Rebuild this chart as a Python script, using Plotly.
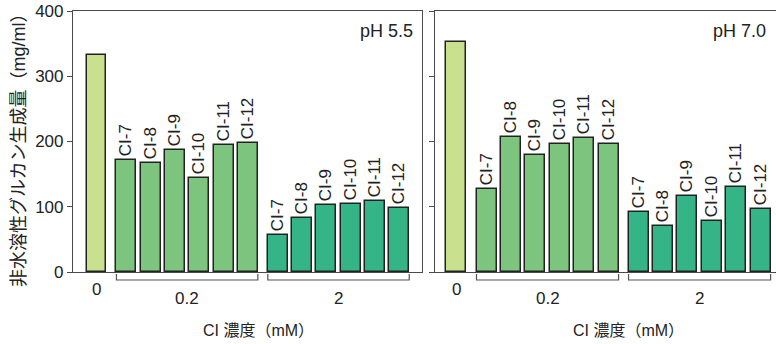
import plotly.graph_objects as go

# ---------------- data ----------------
strains = ["CI-7", "CI-8", "CI-9", "CI-10", "CI-11", "CI-12"]
conc_labels = ["0", "0.2", "2"]
panel_titles = ["pH 5.5", "pH 7.0"]

ph55_control = 332
ph55_conc02 = [172, 167, 187, 144, 194, 198]
ph55_conc2 = [57, 83, 103, 104, 109, 98]

ph70_control = 352
ph70_conc02 = [127, 207, 179, 196, 205, 196]
ph70_conc2 = [92, 71, 116, 78, 130, 97]

y_title = "非水溶性グルカン生成量（mg/ml）"
x_title = "CI 濃度（mM）"

# ---------------- styling ----------------
W, H = 776, 344
FONT = "Liberation Sans, Arial, Noto Sans CJK JP, sans-serif"
C_CTRL = "#c9e08e"
C_02 = "#7dc57f"
C_2 = "#34b487"
EDGE = "#222222"
AXC = "#4a4a4a"
BAR_W = 0.82
GAP = 1.23

# slot positions: control, group 0.2, group 2
pos_ctrl = 0.0
start02 = pos_ctrl + GAP
start2 = start02 + (len(strains) - 1) + GAP
pos02 = [start02 + i for i in range(len(strains))]
pos2 = [start2 + i for i in range(len(strains))]

def py(p):  # pixel row -> paper y
    return (H - p) / H

panels = [
    dict(xa="x", ya="y", dom=[73 / W, 422 / W], rng=[-0.967, 13.395],
         ctrl=ph55_control, g02=ph55_conc02, g2=ph55_conc2, title=panel_titles[0],
         title_x=415 / W, xt_x=258 / W),
    dict(xa="x2", ya="y2", dom=[435 / W, 1.0], rng=[-0.88, 13.09],
         ctrl=ph70_control, g02=ph70_conc02, g2=ph70_conc2, title=panel_titles[1],
         title_x=768 / W, xt_x=628 / W),
]

fig = go.Figure()
shapes = []
annotations = []

def paper_x(p, x):
    d0, d1 = p["dom"]
    r0, r1 = p["rng"]
    return d0 + (x - r0) / (r1 - r0) * (d1 - d0)

for p in panels:
    xs = [pos_ctrl] + pos02 + pos2
    ys = [p["ctrl"]] + p["g02"] + p["g2"]
    texts = [""] + strains + strains
    colors = [C_CTRL] + [C_02] * len(strains) + [C_2] * len(strains)
    fig.add_trace(go.Bar(
        x=xs, y=ys, width=BAR_W, text=texts, textposition="outside",
        textangle=-90, constraintext="none", cliponaxis=False,
        textfont=dict(family=FONT, size=17, color="#222"),
        marker=dict(color=colors, line=dict(color=EDGE, width=1.5)),
        xaxis=p["xa"], yaxis=p["ya"], showlegend=False, hoverinfo="x+y",
    ))
    # category labels
    annotations.append(dict(x=pos_ctrl, y=py(289), xref=p["xa"], yref="paper",
                            text=conc_labels[0], showarrow=False,
                            font=dict(family=FONT, size=17, color="#222"),
                            xanchor="center", yanchor="middle"))
    for grp, lab in ((pos02, conc_labels[1]), (pos2, conc_labels[2])):
        mid = (grp[0] + grp[-1]) / 2
        annotations.append(dict(x=mid, y=py(298), xref=p["xa"], yref="paper",
                                text=lab, showarrow=False,
                                font=dict(family=FONT, size=17, color="#222"),
                                xanchor="center", yanchor="middle"))
        xl = paper_x(p, grp[0] - BAR_W / 2)
        xr = paper_x(p, grp[-1] + BAR_W / 2)
        shapes.append(dict(type="path", xref="paper", yref="paper",
                           path=f"M {xl},{py(274)} L {xl},{py(280)} L {xr},{py(280)} L {xr},{py(274)}",
                           line=dict(color="#555", width=1.2)))
    # panel title
    annotations.append(dict(x=p["title_x"], y=py(31), xref="paper", yref="paper",
                            text=p["title"], showarrow=False,
                            font=dict(family=FONT, size=18, color="#222"),
                            xanchor="right", yanchor="middle"))
    # x title
    annotations.append(dict(x=p["xt_x"], y=py(330), xref="paper", yref="paper",
                            text=x_title, showarrow=False,
                            font=dict(family=FONT, size=16, color="#222"),
                            xanchor="center", yanchor="middle"))

annotations.append(dict(x=19 / W, y=py(146), xref="paper", yref="paper",
                        text=y_title, showarrow=False, textangle=-90,
                        font=dict(family=FONT, size=18, color="#222"),
                        xanchor="center", yanchor="middle"))

ydom = [py(272), py(11)]
common_x = dict(showgrid=False, zeroline=False, showticklabels=False, ticks="",
                showline=True, linecolor=AXC, linewidth=1.2, mirror=True,
                fixedrange=True, automargin=False)
fig.update_layout(
    width=W, height=H,
    margin=dict(l=0, r=0, t=0, b=0, autoexpand=False),
    paper_bgcolor="white", plot_bgcolor="white",
    font=dict(family=FONT, color="#222"),
    bargap=0,
    xaxis=dict(domain=panels[0]["dom"], range=panels[0]["rng"], anchor="y", **common_x),
    xaxis2=dict(domain=panels[1]["dom"], range=panels[1]["rng"], anchor="y2", **common_x),
    yaxis=dict(domain=ydom, range=[0, 400], dtick=100, ticks="outside", ticklen=5,
               tickcolor=AXC, showgrid=False, zeroline=False, showline=True,
               linecolor=AXC, linewidth=1.2, mirror=True, anchor="x", automargin=False,
               tickfont=dict(family=FONT, size=17, color="#222")),
    yaxis2=dict(domain=ydom, range=[0, 400], dtick=100, ticks="outside", ticklen=5,
                tickcolor=AXC, showgrid=False, zeroline=False, showline=True,
                linecolor=AXC, linewidth=1.2, mirror=False, anchor="x2", automargin=False,
                showticklabels=False),
    shapes=shapes,
    annotations=annotations,
)

fig.write_html("out.html")
